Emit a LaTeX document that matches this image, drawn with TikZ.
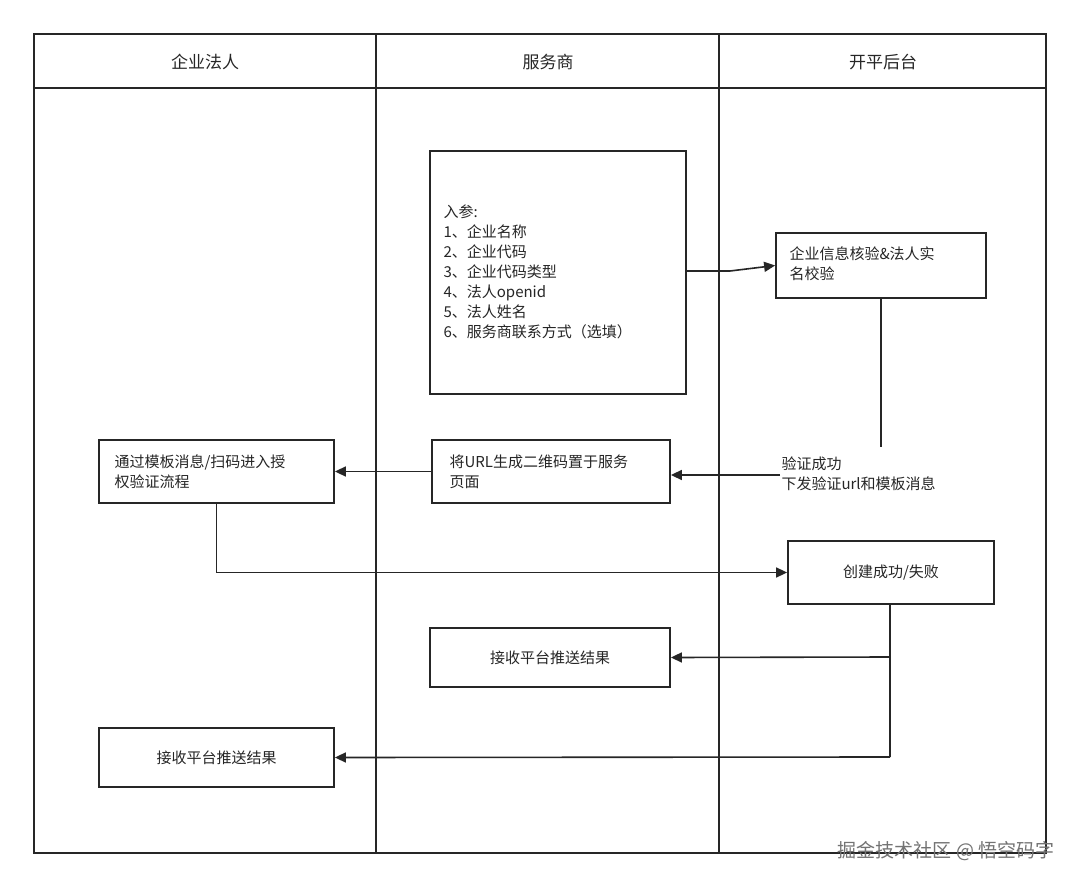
\documentclass[tikz,border=0pt]{standalone}
\usepackage{fontspec}
\setmainfont{Noto Sans CJK SC}
\usetikzlibrary{arrows.meta}
\begin{document}
\begin{tikzpicture}[x=1pt,y=-1pt,
  box/.style={draw=black!85,line width=1.8pt,fill=white,inner sep=0pt},
  ln/.style={draw=black!85,line width=1.6pt},
  arr/.style={ln,-{Triangle[length=11pt,width=10pt]}},
  t/.style={font=\fontsize{15}{20}\selectfont,align=left,text=black!85}]
\useasboundingbox (0,0) rectangle (1080,888);
\fill[white] (0,0) rectangle (1080,888);
\draw[ln] (34,34) rectangle (1046,853);
\draw[ln] (34,88) -- (1046,88);
\draw[ln] (376,34) -- (376,853);
\draw[ln] (719,34) -- (719,853);
\node[t,font=\fontsize{17}{20}\selectfont] (h1) at (205,62) {企业法人};
\node[t,font=\fontsize{17}{20}\selectfont] (h2) at (548,62) {服务商};
\node[t,font=\fontsize{17}{20}\selectfont] (h3) at (883,62) {开平后台};
% boxes
\draw[box] (430,151) rectangle (686,394);
\node[box,draw=none,fill=none,minimum width=0pt] (b1) at (558,272.5) {};
\coordinate (b1r) at (686,271);
\node[t,anchor=north west] (b1t) at (440,201) {入参:\\1、企业名称\\2、企业代码\\3、企业代码类型\\4、法人openid\\5、法人姓名\\6、服务商联系方式（选填）};
\node[box,minimum width=210pt,minimum height=65pt] (b2) at (881,265.5) {};
\node[t,anchor=north west] at (786,243) {企业信息核验\&法人实\\名校验};
\node[box,minimum width=238pt,minimum height=63pt] (b3) at (551,471.5) {};
\node[t,anchor=north west] at (446,451) {将URL生成二维码置于服务\\页面};
\node[box,minimum width=235pt,minimum height=63pt] (b4) at (216.5,471.5) {};
\node[t,anchor=north west] at (111,451) {通过模板消息/扫码进入授\\权验证流程};
\node[box,minimum width=206pt,minimum height=63pt,t] (b5) at (891,572.5) {创建成功/失败};
\node[box,minimum width=240pt,minimum height=59pt,t] (b6) at (550,657.5) {接收平台推送结果};
\node[box,minimum width=235pt,minimum height=59pt,t] (b7) at (216.5,757.5) {接收平台推送结果};
% connectors
\draw[arr] (b1r) -- (730,271) -- (b2.west);
\coordinate (v1) at (881,447);
\draw[ln] (b2.south) -- (v1);
\node[t,anchor=north west] (vt) at (778,453) {验证成功\\下发验证url和模板消息};
\coordinate (s1) at (780,475);
\draw[arr] (s1) -- (b3.east|-s1);
\draw[arr] (b3.west) -- (b4.east);
\draw[arr] (b4.south) |- (b5.west);
\coordinate (j1) at (890,657);
\coordinate (j2) at (890,757);
\draw[ln] (b5.south-|j1) -- (j2);
\draw[arr] (j1) -- (b6.east);
\draw[arr] (j2) -- (b7.east);
\node[font=\fontsize{19}{22}\selectfont,text=black!55,anchor=east] (wm) at (1058,851) {掘金技术社区 @ 悟空码字};
\end{tikzpicture}
\end{document}
